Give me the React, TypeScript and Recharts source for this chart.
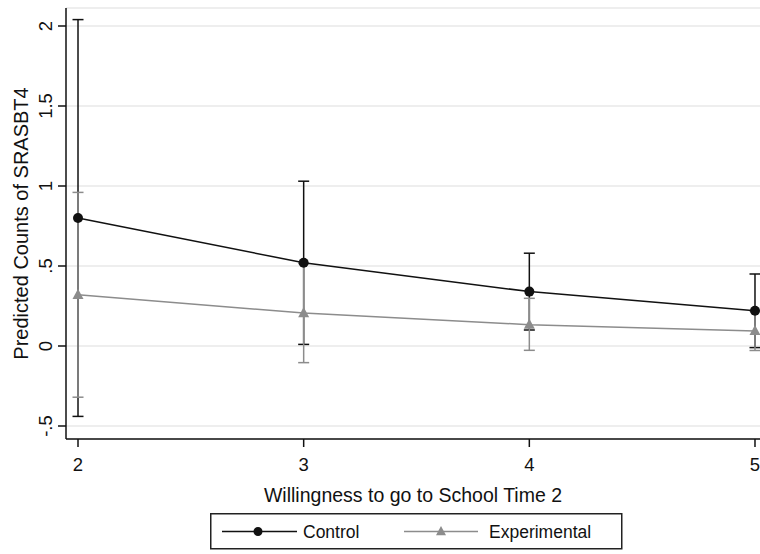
import React from 'react';
import { ComposedChart, Line, XAxis, YAxis, CartesianGrid, ErrorBar, Legend } from 'recharts';

const willingness = [2, 3, 4, 5];
const controlMean = [0.8, 0.52, 0.34, 0.22];
const controlLower = [-0.44, 0.01, 0.1, -0.01];
const controlUpper = [2.04, 1.03, 0.58, 0.45];
const experimentalMean = [0.32, 0.206, 0.133, 0.094];
const experimentalLower = [-0.32, -0.104, -0.027, -0.028];
const experimentalUpper = [0.96, 0.516, 0.298, 0.218];
const yTicks = [-0.5, 0, 0.5, 1, 1.5, 2];
const yTickLabels = ['-.5', '0', '.5', '1', '1.5', '2'];
const xTicks = [2, 3, 4, 5];
const xTickLabels = ['2', '3', '4', '5'];

const FONT = '"Liberation Sans", Arial, sans-serif';
const CONTROL_COLOR = '#111111';
const EXP_COLOR = '#8c8c8c';

const data = willingness.map((w, i) => ({
  x: w,
  control: controlMean[i],
  controlErr: [controlMean[i] - controlLower[i], controlUpper[i] - controlMean[i]],
  experimental: experimentalMean[i],
  experimentalErr: [experimentalMean[i] - experimentalLower[i], experimentalUpper[i] - experimentalMean[i]],
}));

const YTick = (props: any) => {
  const { x, y, payload } = props;
  const idx = yTicks.indexOf(payload.value);
  const label = idx >= 0 ? yTickLabels[idx] : String(payload.value);
  const bx = x - 4;
  return (
    <text
      x={bx}
      y={y}
      transform={`rotate(-90, ${bx}, ${y})`}
      textAnchor="middle"
      fontFamily={FONT}
      fontSize={18.5}
      fill="#111"
    >
      {label}
    </text>
  );
};

const XTick = (props: any) => {
  const { x, y, payload } = props;
  const idx = xTicks.indexOf(payload.value);
  const label = idx >= 0 ? xTickLabels[idx] : String(payload.value);
  return (
    <text x={x} y={y + 22} textAnchor="middle" fontFamily={FONT} fontSize={18.5} fill="#111">
      {label}
    </text>
  );
};

const TriangleDot = (props: any) => {
  const { cx, cy, fill, r } = props;
  if (cx == null || cy == null) return null;
  const s = r || 5.5;
  return (
    <polygon
      points={`${cx},${cy - s * 1.1} ${cx - s},${cy + s * 0.75} ${cx + s},${cy + s * 0.75}`}
      fill={fill || EXP_COLOR}
    />
  );
};

const LegendBox = () => (
  <svg width={414} height={38} style={{ display: 'block' }}>
    <rect x={0.75} y={0.75} width={411} height={35} fill="#fff" stroke="#222" strokeWidth={1.5} />
    <line x1={12} y1={18.5} x2={87} y2={18.5} stroke={CONTROL_COLOR} strokeWidth={1.5} />
    <circle cx={48} cy={18.5} r={4.5} fill={CONTROL_COLOR} />
    <text x={93} y={18.5} dominantBaseline="central" fontFamily={FONT} fontSize={17.5} fill="#111">
      Control
    </text>
    <line x1={194} y1={18.5} x2={268} y2={18.5} stroke={EXP_COLOR} strokeWidth={1.5} />
    <TriangleDot cx={231} cy={18.5} r={5} fill={EXP_COLOR} />
    <text x={279} y={18.5} dominantBaseline="central" fontFamily={FONT} fontSize={17.5} fill="#111">
      Experimental
    </text>
  </svg>
);

export default function App() {
  return (
    <div style={{ width: 760, height: 554, position: 'relative', background: '#fff' }}>
      <style>{`html, body { margin: 0; padding: 0; overflow: hidden; background: #fff; }`}</style>
      <ComposedChart
        width={760}
        height={554}
        data={data}
        margin={{ top: 8, right: 0, left: 0, bottom: 75 }}
        style={{ background: '#fff' }}
      >
        <CartesianGrid vertical={false} stroke="#e8e8e8" strokeWidth={1.5} />
        <XAxis
          dataKey="x"
          type="number"
          domain={[1.9468, 5.0222]}
          ticks={xTicks}
          allowDataOverflow
          height={40}
          tickSize={8}
          tickLine={{ stroke: '#111', strokeWidth: 1.5 }}
          axisLine={{ stroke: '#111', strokeWidth: 1.5 }}
          tick={<XTick />}
          interval={0}
          label={{
            content: (p: any) => {
              const vb = p.viewBox || { x: 66, y: 439, width: 694, height: 40 };
              return (
                <text
                  x={vb.x + vb.width / 2}
                  y={vb.y + 63}
                  textAnchor="middle"
                  fontFamily={FONT}
                  fontSize={19.5}
                  fill="#111"
                >
                  Willingness to go to School Time 2
                </text>
              );
            },
          }}
        />
        <YAxis
          type="number"
          domain={[-0.58125, 2.1125]}
          ticks={yTicks}
          allowDataOverflow
          width={66}
          tickSize={8}
          tickLine={{ stroke: '#111', strokeWidth: 1.5 }}
          axisLine={{ stroke: '#111', strokeWidth: 1.5 }}
          tick={<YTick />}
          interval={0}
          label={{
            content: (p: any) => {
              const vb = p.viewBox || { x: 0, y: 8, width: 66, height: 431 };
              const cy = vb.y + vb.height / 2;
              return (
                <text
                  x={28}
                  y={cy}
                  transform={`rotate(-90, 28, ${cy})`}
                  textAnchor="middle"
                  fontFamily={FONT}
                  fontSize={20}
                  fill="#111"
                >
                  Predicted Counts of SRASBT4
                </text>
              );
            },
          }}
        />
        <Line
          dataKey="control"
          stroke="none"
          dot={false}
          activeDot={false}
          legendType="none"
          isAnimationActive={false}
        >
          <ErrorBar dataKey="controlErr" direction="y" width={5.5} stroke={CONTROL_COLOR} strokeWidth={1.5} isAnimationActive={false} />
        </Line>
        <Line
          dataKey="experimental"
          stroke="none"
          dot={false}
          activeDot={false}
          legendType="none"
          isAnimationActive={false}
        >
          <ErrorBar dataKey="experimentalErr" direction="y" width={5.5} stroke={EXP_COLOR} strokeWidth={1.5} isAnimationActive={false} />
        </Line>
        <Line
          dataKey="control"
          name="Control"
          stroke={CONTROL_COLOR}
          strokeWidth={1.5}
          dot={{ r: 5, fill: CONTROL_COLOR, stroke: 'none' }}
          activeDot={false}
          isAnimationActive={false}
        />
        <Line
          dataKey="experimental"
          name="Experimental"
          stroke={EXP_COLOR}
          strokeWidth={1.5}
          dot={(p: any) => <TriangleDot key={`t-${p.index}`} cx={p.cx} cy={p.cy} r={5.5} fill={EXP_COLOR} />}
          activeDot={false}
          isAnimationActive={false}
        />
        <Legend
          layout="horizontal"
          verticalAlign="middle"
          align="center"
          wrapperStyle={{ left: 210, top: 513, width: 414, height: 38 }}
          content={() => <LegendBox />}
        />
      </ComposedChart>
    </div>
  );
}
